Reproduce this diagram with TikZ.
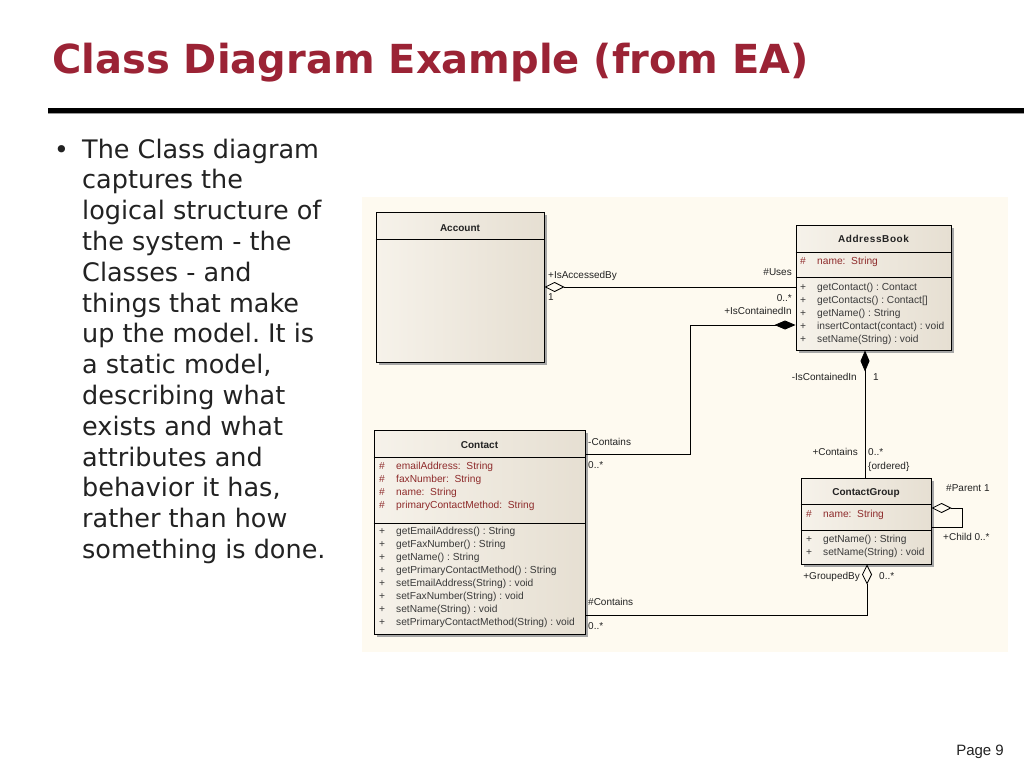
\documentclass[tikz,border=0pt]{standalone}
\usepackage{fontspec}
\setmainfont{DejaVu Sans}
\newfontfamily\umlfont{Liberation Sans}
\usetikzlibrary{arrows.meta,positioning,calc,shadows}
\definecolor{titlered}{HTML}{9B2335}
\definecolor{ink}{HTML}{222222}
\definecolor{cream}{HTML}{FEFAF0}
\definecolor{boxl}{HTML}{F6F2EA}
\definecolor{boxr}{HTML}{E6DFD2}
\definecolor{attrred}{HTML}{8E2B2B}
\definecolor{opgray}{HTML}{3A3A3A}
\newcommand{\umlrow}[2]{\makebox[17pt][l]{#1}#2}
\frenchspacing

\begin{document}
\begin{tikzpicture}[x=1pt,y=-1pt,
  cls/.style={draw=black,line width=1pt,left color=boxl,right color=boxr,
              drop shadow={shadow xshift=2.5pt,shadow yshift=-2.5pt,fill=black!35,opacity=1},
              inner sep=0},
  ctitle/.style={font=\umlfont\fontsize{10}{12}\selectfont\bfseries,text=ink,inner sep=0},
  attr/.style={font=\umlfont\fontsize{10.2}{12}\selectfont,text=attrred,anchor=west,
               inner sep=0,text height=7.5pt,text depth=2pt},
  oper/.style={attr,text=opgray},
  role/.style={font=\umlfont\fontsize{10}{12}\selectfont,text=ink,inner sep=0,
               text height=7.5pt,text depth=2pt},
  agg/.style={{Diamond[open,length=20pt,width=10pt]}-,line width=0.8pt},
  comp/.style={{Diamond[length=21pt,width=9pt]}-,line width=0.8pt}]

  \useasboundingbox (0,0) rectangle (1024,768);
  % page and title
  \fill[white] (0,0) rectangle (1024,768);
  \node[anchor=base west,inner sep=0,text=titlered,font=\fontsize{40}{48}\selectfont\bfseries]
    (title) at (52,73) {Class Diagram Example (from EA)};
  \draw[black!40,line width=2pt] (48,113) -- (1024,113);
  \draw[black,line width=5pt] (48,110) -- (1024,110);

  % bullet text
  \node[anchor=base west,inner sep=0,text=ink,font=\fontsize{25}{30.8}\selectfont] (bul) at (54,158) {•};
  \node[anchor=base west,inner sep=0,text=ink,align=left,font=\fontsize{25.5}{30.8}\selectfont]
    (body) at (82,558.4) {The Class diagram\\captures the\\logical structure of\\the system - the\\Classes - and\\things that make\\up the model. It is\\a static model,\\describing what\\exists and what\\attributes and\\behavior it has,\\rather than how\\something is done.};

  % diagram area
  \fill[cream] (362,197) rectangle (1008,652);

  % classes
  \node[cls,minimum width=168pt,minimum height=150pt] (acc) at (460,287) {};
  \node[cls,minimum width=155pt,minimum height=125pt] (ab) at (873.5,287.5) {};
  \node[cls,minimum width=211pt,minimum height=204pt] (ctc) at (479.5,532) {};
  \node[cls,minimum width=130pt,minimum height=86pt] (grp) at (866,521) {};

  \node[ctitle] (acc-t) at (460,228) {Account};
  \node[ctitle] (ab-t) at (873.5,239) {A\kern.6pt d\kern.6pt d\kern.6pt r\kern.6pt e\kern.6pt s\kern.6pt s\kern.6pt B\kern.6pt o\kern.6pt o\kern.6pt k};
  \node[ctitle] (ctc-t) at (479.5,445) {Contact};
  \node[ctitle] (grp-t) at (866,493) {ContactGroup};

  \draw[line width=1pt] (acc.west |- 0,239) -- (acc.east |- 0,239);
  \draw[line width=1pt] (ab.west |- 0,252) -- (ab.east |- 0,252);
  \draw[line width=1pt] (ab.west |- 0,277) -- (ab.east |- 0,277);
  \draw[line width=1pt] (ctc.west |- 0,457) -- (ctc.east |- 0,457);
  \draw[line width=1pt] (ctc.west |- 0,523) -- (ctc.east |- 0,523);
  \draw[line width=1pt] (grp.west |- 0,504) -- (grp.east |- 0,504);
  \draw[line width=1pt] (grp.west |- 0,530) -- (grp.east |- 0,530);

  % members
  \node[attr] (ab-a0) at (800,262) {\umlrow{\#}{name:~ String}};
  \foreach \t [count=\i from 0] in {getContact() : Contact,getContacts() : Contact[],
      getName() : String,insertContact(contact) : void,setName(String) : void}
    \node[oper] (ab-op\i) at (800,288+13*\i) {\umlrow{+}{\t}};

  \foreach \t [count=\i from 0] in {emailAddress:~ String,faxNumber:~ String,
      name:~ String,primaryContactMethod:~ String}
    \node[attr] (ctc-a\i) at (379,467+13*\i) {\umlrow{\#}{\t}};
  \foreach \t [count=\i from 0] in {getEmailAddress() : String,getFaxNumber() : String,
      getName() : String,getPrimaryContactMethod() : String,setEmailAddress(String) : void,
      setFaxNumber(String) : void,setName(String) : void,setPrimaryContactMethod(String) : void}
    \node[oper] (ctc-op\i) at (379,532+13*\i) {\umlrow{+}{\t}};

  \node[attr] (grp-a0) at (806,515) {\umlrow{\#}{name:~ String}};
  \node[oper] (grp-op0) at (806,540) {\umlrow{+}{getName() : String}};
  \node[oper] (grp-op1) at (806,553) {\umlrow{+}{setName(String) : void}};

  % associations
  \draw[agg] (acc.east |- 0,287) -- (ab.west |- 0,287);
  \coordinate (k1) at (690,454);
  \draw[comp] (ab.west |- 0,325) -| (k1) -- (ctc.east |- k1);
  \draw[comp] (ab.south -| 865,0) -- (grp.north -| 865,0);
  \coordinate (k2) at (962,508);
  \draw[agg] (grp.east |- k2) -- (k2) |- (grp.east |- 0,527);
  \draw[agg] (grp.south -| 867,0) |- (ctc.east |- 0,615);

  % role names
  \node[role,anchor=west] (r1) at (548,276) {+IsAccessedBy};
  \node[role,anchor=west] (r2) at (548,298) {1};
  \node[role,anchor=east] (r3) at (792,273) {\#Uses};
  \node[role,anchor=east] (r4) at (792,299) {0..*};
  \node[role,anchor=east] (r5) at (792,312) {+IsContainedIn};
  \node[role,anchor=west] (r6) at (588,443) {-Contains};
  \node[role,anchor=west] (r7) at (588,466) {0..*};
  \node[role,anchor=east] (r8) at (857,378) {-IsContainedIn};
  \node[role,anchor=west] (r9) at (873,378) {1};
  \node[role,anchor=east] (r10) at (858,453) {+Contains};
  \node[role,anchor=west] (r11) at (868,453) {0..*};
  \node[role,anchor=west] (r12) at (868,467) {\{ordered\}};
  \node[role,anchor=west] (r13) at (946,489) {\#Parent 1};
  \node[role,anchor=west] (r14) at (943,538) {+Child 0..*};
  \node[role,anchor=east] (r15) at (860,577) {+GroupedBy};
  \node[role,anchor=west] (r16) at (879,577) {0..*};
  \node[role,anchor=west] (r17) at (588,603) {\#Contains};
  \node[role,anchor=west] (r18) at (588,627) {0..*};

  % footer
  \node[anchor=east,inner sep=0,text=ink,font=\umlfont\fontsize{15}{18}\selectfont] (page) at (1004,752) {Page 9};
\end{tikzpicture}
\end{document}
